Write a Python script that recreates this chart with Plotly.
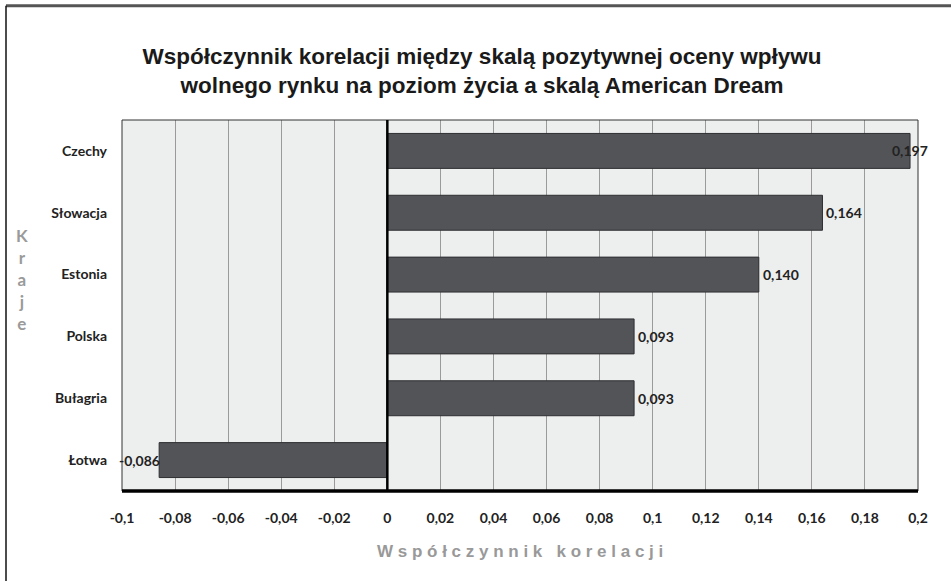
import plotly.graph_objects as go

countries = ["Czechy", "Słowacja", "Estonia", "Polska", "Bułagria", "Łotwa"]
values = [0.197, 0.164, 0.140, 0.093, 0.093, -0.086]
labels = ["0,197", "0,164", "0,140", "0,093", "0,093", "-0,086"]
tick_vals = [-0.1, -0.08, -0.06, -0.04, -0.02, 0, 0.02, 0.04, 0.06, 0.08, 0.1, 0.12, 0.14, 0.16, 0.18, 0.2]
tick_text = ["-0,1", "-0,08", "-0,06", "-0,04", "-0,02", "0", "0,02", "0,04", "0,06", "0,08", "0,1", "0,12", "0,14", "0,16", "0,18", "0,2"]

title_text = ("Współczynnik korelacji między skalą pozytywnej oceny wpływu<br>"
              "wolnego rynku na poziom życia a skalą American Dream")
x_title = "W s p ó ł c z y n n i k   k o r e l a c j i"
y_title_letters = ["K", "r", "a", "j", "e"]

fig = go.Figure()
fig.add_trace(go.Bar(
    x=values, y=countries, orientation="h",
    marker=dict(color="#525458", line=dict(color="#2e2f31", width=1)),
    width=0.565, cliponaxis=False, hoverinfo="skip",
))

lab_font = dict(family="Lato", size=14, color="#222222", weight="bold")
annotations = []
for c, v, t in zip(countries, values, labels):
    if v >= 0:
        shift = -20 if v > 0.19 else 2
        annotations.append(dict(x=v, y=c, xref="x", yref="y", text=t, showarrow=False,
                                xanchor="left", xshift=shift, font=lab_font))
    else:
        annotations.append(dict(x=v, y=c, xref="x", yref="y", text=t, showarrow=False,
                                xanchor="right", xshift=3, font=lab_font))

annotations.append(dict(x=(22 - 122) / 796, y=(491.5 - 279) / 372, xref="paper", yref="paper",
                        text="<br>".join(y_title_letters), showarrow=False,
                        xanchor="center", yanchor="middle", align="center",
                        font=dict(family="Lato", size=17, color="#9a9a9a", weight="bold")))
annotations.append(dict(x=0.5, y=(491.5 - 552) / 372, xref="paper", yref="paper",
                        text=x_title, showarrow=False, xanchor="center", yanchor="middle",
                        font=dict(family="Liberation Sans", size=17, color="#999999", weight="bold")))

shapes = [
    dict(type="line", xref="paper", yref="paper", x0=(6 - 122) / 796, x1=(960 - 122) / 796,
         y0=(491.5 - 5) / 372, y1=(491.5 - 5) / 372, line=dict(color="#555555", width=3)),
    dict(type="line", xref="paper", yref="paper", x0=(6 - 122) / 796, x1=(6 - 122) / 796,
         y0=(491.5 - 5) / 372, y1=(491.5 - 600) / 372, line=dict(color="#111111", width=1.5)),
    dict(type="rect", xref="paper", yref="paper", x0=0, x1=1, y0=0, y1=1,
         line=dict(color="#333333", width=1), layer="above"),
    dict(type="line", xref="x", yref="paper", x0=0, x1=0, y0=0, y1=1,
         line=dict(color="#000000", width=2.5), layer="above"),
    dict(type="line", xref="paper", yref="paper", x0=0, x1=1, y0=0, y1=0,
         line=dict(color="#000000", width=3.5), layer="above"),
]

fig.update_layout(
    width=951, height=581,
    margin=dict(l=122, r=33, t=119.5, b=89.5),
    paper_bgcolor="white", plot_bgcolor="#EDEEEE",
    showlegend=False,
    title=dict(text=title_text, x=482 / 951, xanchor="center", y=1 - 64 / 581, yanchor="middle",
               font=dict(family="Liberation Sans", size=22.5, color="#1a1a1a", weight="bold")),
    xaxis=dict(range=[-0.1, 0.2], tickvals=tick_vals, ticktext=tick_text,
               showgrid=True, gridcolor="#9a9a9a", gridwidth=1, zeroline=False,
               showline=False, ticks="", ticklabelstandoff=17,
               tickfont=dict(family="Lato", size=14, color="#222222", weight="bold")),
    yaxis=dict(categoryorder="array", categoryarray=countries[::-1],
               showgrid=False, zeroline=False, showline=False, ticks="",
               ticklabelstandoff=14,
               tickfont=dict(family="Lato", size=14, color="#222222", weight="bold")),
    annotations=annotations, shapes=shapes,
)

fig.write_html("out.html", config={"displayModeBar": False},
               post_script="document.body.style.margin='0';document.body.style.padding='0';")
